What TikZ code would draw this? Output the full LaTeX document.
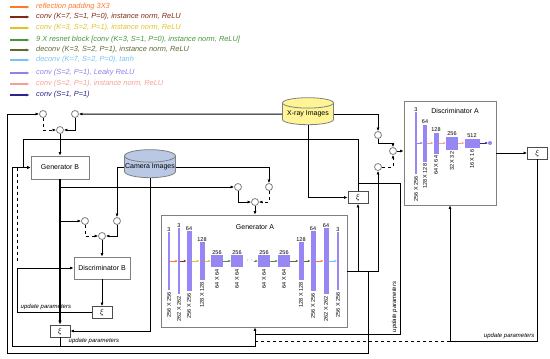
\documentclass[tikz,border=0pt]{standalone}
\usepackage{fontspec}
\setmainfont{Liberation Sans}
\usetikzlibrary{shapes.geometric, arrows.meta}

\definecolor{padcol}{RGB}{255,120,40}
\definecolor{csevcol}{RGB}{130,40,20}
\definecolor{cthrcol}{RGB}{225,195,40}
\definecolor{rescol}{RGB}{70,150,60}
\definecolor{dconcol}{RGB}{95,105,45}
\definecolor{tanhcol}{RGB}{120,195,245}
\definecolor{leakcol}{RGB}{140,130,235}
\definecolor{inrmcol}{RGB}{245,160,150}
\definecolor{conecol}{RGB}{45,35,140}
\definecolor{barcol}{RGB}{150,135,245}
\definecolor{camcol}{RGB}{185,200,228}
\definecolor{xraycol}{RGB}{255,245,150}

\tikzset{
    blk/.style={draw=gray, line width=0.8pt, fill=white, inner sep=0pt, font=\fontsize{7}{8}\selectfont},
    sw/.style={circle, draw=gray, line width=0.8pt, fill=white, inner sep=0pt, minimum size=7pt},
    loss/.style={draw=gray!60!black, line width=0.8pt, fill=white, inner sep=0pt, minimum width=20pt, minimum height=12pt, font=\fontsize{8}{9}\selectfont},
    dbase/.style={cylinder, shape border rotate=90, aspect=0.25, draw=gray, line width=0.8pt, inner sep=0pt, font=\fontsize{7}{8}\selectfont},
    line/.style={line width=1pt},
    conn/.style={line width=1pt, -{Latex[length=3.5pt,width=3pt]}},
    thk/.style={line width=1.6pt, -{Latex[length=4pt,width=3.5pt]}},
    lay/.style={line width=0.9pt, -{Latex[length=2.5pt,width=2.5pt]}},
    legarr/.style={line width=1.2pt, -{Latex[length=4pt,width=3pt]}},
    legtxt/.style={anchor=west, inner sep=0pt, font=\fontsize{7.4}{8}\selectfont\itshape},
    bar/.style={fill=barcol, inner sep=0pt},
    num/.style={inner sep=0.5pt, font=\fontsize{5.5}{6}\selectfont},
    dim/.style={inner sep=0pt, rotate=90, anchor=east, font=\fontsize{5.5}{6}\selectfont},
    upd/.style={inner sep=0.5pt, font=\fontsize{6}{7}\selectfont\itshape},
    ttl/.style={inner sep=0pt, font=\fontsize{7}{8}\selectfont}
}

\begin{document}
\begin{tikzpicture}[x=1pt, y=-1pt]
    \useasboundingbox (0,0) rectangle (550,359);
    %%% Legend
    \node[legtxt, text=padcol] (leg1) at (36,7) {reflection padding 3X3};
    \draw[legarr, padcol] ([xshift=-26pt]leg1.west) -- ([xshift=-6pt]leg1.west);
    \node[legtxt, text=csevcol] (leg2) at (36,17) {conv (K=7, S=1, P=0), instance norm, ReLU};
    \draw[legarr, csevcol] ([xshift=-26pt]leg2.west) -- ([xshift=-6pt]leg2.west);
    \node[legtxt, text=cthrcol] (leg3) at (36,28) {conv (K=3, S=2, P=1), instance norm, ReLU};
    \draw[legarr, cthrcol] ([xshift=-26pt]leg3.west) -- ([xshift=-6pt]leg3.west);
    \node[legtxt, text=rescol] (leg4) at (36,40) {9 X resnet block [conv (K=3, S=1, P=0), instance norm, ReLU]};
    \draw[legarr, rescol] ([xshift=-26pt]leg4.west) -- ([xshift=-6pt]leg4.west);
    \node[legtxt, text=dconcol] (leg5) at (36,50) {deconv (K=3, S=2, P=1), instance norm, ReLU};
    \draw[legarr, dconcol] ([xshift=-26pt]leg5.west) -- ([xshift=-6pt]leg5.west);
    \node[legtxt, text=tanhcol] (leg6) at (36,60) {deconv (K=7, S=2, P=0), tanh};
    \draw[legarr, tanhcol] ([xshift=-26pt]leg6.west) -- ([xshift=-6pt]leg6.west);
    \node[legtxt, text=leakcol] (leg7) at (36,73) {conv (S=2, P=1), Leaky ReLU};
    \draw[legarr, leakcol] ([xshift=-26pt]leg7.west) -- ([xshift=-6pt]leg7.west);
    \node[legtxt, text=inrmcol] (leg8) at (36,84) {conv (S=2, P=1), instance norm, ReLU};
    \draw[legarr, inrmcol] ([xshift=-26pt]leg8.west) -- ([xshift=-6pt]leg8.west);
    \node[legtxt, text=conecol] (leg9) at (36,95) {conv (S=1, P=1)};
    \draw[legarr, conecol] ([xshift=-26pt]leg9.west) -- ([xshift=-6pt]leg9.west);
    %
    %%% Blocks
    \node[blk, minimum width=58pt, minimum height=23pt] (genB) at (60,167.5) {Generator B};
    \node[blk, minimum width=56pt, minimum height=22pt] (discB) at (102,268) {Discriminator B};
    \node[blk, minimum width=186pt, minimum height=112pt] (genA) at (254,271) {};
    \node[blk, minimum width=92pt, minimum height=104pt] (discA) at (450,153) {};
    \node[ttl] (genAt) at (255,227) {Generator A};
    \node[ttl] (discAt) at (455,111) {Discriminator A};
    \node[dbase, fill=camcol, minimum width=51pt, minimum height=28pt] (cam) at (150,167) {Camera Images};
    \node[dbase, fill=xraycol, minimum width=51pt, minimum height=27pt] (xray) at (308,114) {X-ray Images};
    %
    \node[loss] (lossB) at (102,312.5) {$\xi$};
    \node[loss] (lossC) at (60,331) {$\xi$};
    \node[loss] (lossI) at (358,197.5) {$\xi$};
    \node[loss] (lossA) at (537.5,153) {$\xi$};
    %
    \node[sw] (swB1) at (43,114) {};
    \node[sw] (swB2) at (75,114) {};
    \node[sw] (sumB) at (60,130) {};
    \node[sw] (swD1) at (85,221) {};
    \node[sw] (swD2) at (117,221) {};
    \node[sw] (sumD) at (102,236) {};
    \node[sw] (swA1) at (238,187) {};
    \node[sw] (swA2) at (269,187) {};
    \node[sw] (sumA) at (255,202) {};
    \node[sw] (swE1) at (378,135) {};
    \node[sw] (swE2) at (378,167) {};
    \node[sw] (sumE) at (393,151) {};
    %
    %%% Generator A layers
    \node[bar, minimum width=2pt, minimum height=58pt] (ga1) at (169,261) {};
    \node[bar, minimum width=2pt, minimum height=66pt] (ga2) at (179,261) {};
    \node[bar, minimum width=5pt, minimum height=60pt] (ga3) at (189,261) {};
    \node[bar, minimum width=5pt, minimum height=38pt] (ga4) at (202,261) {};
    \node[bar, minimum width=12pt, minimum height=12pt] (ga5) at (217,261) {};
    \node[bar, minimum width=12pt, minimum height=12pt] (ga6) at (237,261) {};
    \node[inner sep=0pt, text=rescol, font=\fontsize{7}{8}\selectfont] (gadots) at (250,261) {· ·};
    \node[bar, minimum width=12pt, minimum height=12pt] (ga8) at (264,261) {};
    \node[bar, minimum width=12pt, minimum height=12pt] (ga9) at (284,261) {};
    \node[bar, minimum width=5pt, minimum height=38pt] (ga10) at (301,261) {};
    \node[bar, minimum width=5pt, minimum height=60pt] (ga11) at (313,261) {};
    \node[bar, minimum width=5pt, minimum height=66pt] (ga12) at (326,261) {};
    \node[bar, minimum width=2pt, minimum height=58pt] (ga13) at (338,261) {};
    %
    \node[num, anchor=south] (ga1t) at (ga1.north) {3};
    \node[num, anchor=south] (ga2t) at (ga2.north) {3};
    \node[num, anchor=south] (ga3t) at (ga3.north) {64};
    \node[num, anchor=south] (ga4t) at (ga4.north) {128};
    \node[num, anchor=south] (ga5t) at (ga5.north) {256};
    \node[num, anchor=south] (ga6t) at (ga6.north) {256};
    \node[num, anchor=south] (ga8t) at (ga8.north) {256};
    \node[num, anchor=south] (ga9t) at (ga9.north) {256};
    \node[num, anchor=south] (ga10t) at (ga10.north) {128};
    \node[num, anchor=south] (ga11t) at (ga11.north) {64};
    \node[num, anchor=south] (ga12t) at (ga12.north) {64};
    \node[num, anchor=south] (ga13t) at (ga13.north) {3};
    %
    \node[dim] (ga1d) at ([yshift=-2pt]ga1.south) {256 X 256};
    \node[dim] (ga2d) at ([yshift=-2pt]ga2.south) {262 X 262};
    \node[dim] (ga3d) at ([yshift=-2pt]ga3.south) {256 X 256};
    \node[dim] (ga4d) at ([yshift=-2pt]ga4.south) {128 X 128};
    \node[dim] (ga5d) at ([yshift=-2pt]ga5.south) {64 X 64};
    \node[dim] (ga6d) at ([yshift=-2pt]ga6.south) {64 X 64};
    \node[dim] (ga8d) at ([yshift=-2pt]ga8.south) {64 X 64};
    \node[dim] (ga9d) at ([yshift=-2pt]ga9.south) {64 X 64};
    \node[dim] (ga10d) at ([yshift=-2pt]ga10.south) {128 X 128};
    \node[dim] (ga11d) at ([yshift=-2pt]ga11.south) {256 X 256};
    \node[dim] (ga12d) at ([yshift=-2pt]ga12.south) {262 X 262};
    \node[dim] (ga13d) at ([yshift=-2pt]ga13.south) {256 X 256};
    %
    \draw[lay, padcol] (ga1) -- (ga2);
    \draw[lay, csevcol] (ga2) -- (ga3);
    \draw[lay, cthrcol] (ga3) -- (ga4);
    \draw[lay, cthrcol] (ga4) -- (ga5);
    \draw[lay, rescol] (ga5) -- (ga6);
    \draw[lay, rescol] (gadots) -- (ga8);
    \draw[lay, rescol] (ga8) -- (ga9);
    \draw[lay, dconcol] (ga9) -- (ga10);
    \draw[lay, dconcol] (ga10) -- (ga11);
    \draw[lay, padcol] (ga11) -- (ga12);
    \draw[lay, tanhcol] (ga12) -- (ga13);
    %
    %%% Discriminator A layers
    \node[bar, minimum width=2pt, minimum height=62pt] (da1) at (416,143) {};
    \node[bar, minimum width=4pt, minimum height=37pt] (da2) at (425,143) {};
    \node[bar, minimum width=5pt, minimum height=21pt] (da3) at (436,143) {};
    \node[bar, minimum width=12pt, minimum height=13pt] (da4) at (452,143) {};
    \node[bar, minimum width=15pt, minimum height=9pt] (da5) at (472,143) {};
    \node[circle, fill=barcol, inner sep=0pt, minimum size=4pt] (da6) at (490,143) {};
    %
    \node[num, anchor=south] (da1t) at (da1.north) {3};
    \node[num, anchor=south] (da2t) at (da2.north) {64};
    \node[num, anchor=south] (da3t) at (da3.north) {128};
    \node[num, anchor=south] (da4t) at (da4.north) {256};
    \node[num, anchor=south] (da5t) at (da5.north) {512};
    %
    \node[dim] (da1d) at ([yshift=-2pt]da1.south) {256 X 256};
    \node[dim] (da2d) at ([yshift=-2pt]da2.south) {128 X 128};
    \node[dim] (da3d) at ([yshift=-2pt]da3.south) {64 X 64};
    \node[dim] (da4d) at ([yshift=-2pt]da4.south) {32 X 32};
    \node[dim] (da5d) at ([yshift=-2pt]da5.south) {16 X 16};
    %
    \draw[lay, leakcol] (da1) -- (da2);
    \draw[lay, inrmcol] (da2) -- (da3);
    \draw[lay, inrmcol] (da3) -- (da4);
    \draw[lay, inrmcol] (da4) -- (da5);
    \draw[lay, conecol] (da5) -- (da6);
    %
    %%% Inputs of Generator B
    \draw[conn, dashed] (swB1) |- (sumB);
    \draw[conn] (swB2) |- (sumB);
    \draw[conn] (sumB) -- (genB);
    \draw[conn] (xray) -- (swB2);
    %
    %%% Inputs of Discriminator A
    \draw[conn] (xray) -| (swE1);
    \draw[conn] (swE1.south) -- ++(0,5) -| (sumE.north);
    \draw[conn, dashed] (swE2) -| (sumE);
    \draw[conn] (sumE) -- (sumE -| discA.west);
    \draw[conn] (discA) -- (lossA);
    %
    %%% Output of Generator A
    \coordinate (fbk) at (368,271);
    \draw[conn] (genA.east) -| (swE2);
    \draw[conn] (lossI |- genA.east) -- (lossI);
    \draw[conn] (fbk) |- (7,353) |- (swB1);
    \draw[conn] (xray) |- (lossI);
    \draw[conn] (lossI) |- (23,139) |- (genB.west);
    \draw[line] (lossI.north) ++(0,-8) -| (400,334) -- (255,334);
    \node[upd, rotate=90, anchor=south west] (upd3) at (398,333) {update parameters};
    %
    %%% Camera images
    \draw[conn] (cam) -| (swD2);
    \draw[conn] (cam) -| (swA2);
    \draw[conn] (cam) |- (lossC);
    %
    %%% Output of Generator B
    \draw[thk] (genB) -- (lossC);
    \draw[conn] (genB.south |- swA1) -- (swA1);
    \draw[conn] (genB.south |- swD1) -- (swD1);
    \draw[conn] (swA1) |- (sumA);
    \draw[conn, dashed] (swA2) |- (sumA);
    \draw[conn] (sumA) -- (sumA |- genA.north);
    \draw[conn, dashed] (swD1) |- (sumD);
    \draw[conn] (swD2) |- (sumD);
    \draw[conn] (sumD) -- (discB);
    \draw[conn] (discB) -- (lossB);
    \draw[conn] (lossB) -| (17,268) -- (discB.west);
    \node[upd, anchor=south west] (upd1) at (20,310.5) {update parameters};
    \draw[line, dashed] (17,167.5) -- (17,262);
    %
    %%% Cycle loss
    \coordinate (cyc) at (255,346);
    \draw[conn] (lossC) |- (12,346) |- (genB.west);
    \draw[conn] (lossC) |- (cyc) -- (cyc |- genA.south);
    \node[upd, anchor=south west] (upd2) at (68,344.5) {update parameters};
    %
    %%% Loss of Discriminator A
    \coordinate (updA) at (450,341);
    \draw[conn] (lossA) |- (updA) -- (discA);
    \draw[line, dashed] (updA) -- (cyc |- updA);
    \node[upd, anchor=south east] (upd4) at (535,339.5) {update parameters};
\end{tikzpicture}
\end{document}
